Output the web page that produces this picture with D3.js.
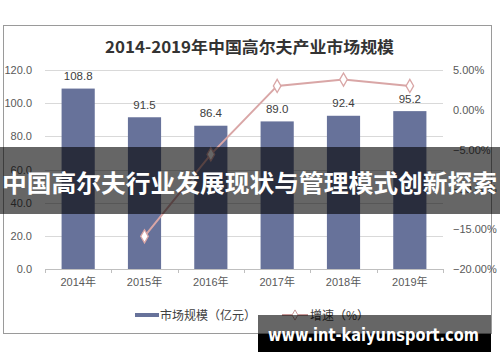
<!DOCTYPE html>
<html><head><meta charset="utf-8">
<script src="https://cdn.jsdelivr.net/npm/d3@7"></script>
<style>html,body{margin:0;padding:0;background:#fff;}svg{display:block;}</style>
</head><body>
<script>
const years = ["2014年","2015年","2016年","2017年","2018年","2019年"];
const marketSize = [108.8, 91.5, 86.4, 89.0, 92.4, 95.2];
const growth = [null, -15.9, -5.6, 3.0, 3.8, 3.0];
const leftTicks = [0, 20, 40, 60, 80, 100, 120];
const rightTicks = [-20, -15, -10, -5, 0, 5];
const titleText = "2014-2019年中国高尔夫产业市场规模";
const legendLabels = ["市场规模（亿元）", "增速（%）"];
const bannerText = "中国高尔夫行业发展现状与管理模式创新探索";
const watermarkText = "www.int-kaiyunsport.com";

const W = 500, H = 362;
const svg = d3.select("body").append("svg").attr("width", W).attr("height", H);
const sans = "Liberation Sans, Arial, 'Noto Sans CJK SC', sans-serif";
const cjk = "'Noto Sans CJK SC', sans-serif";

// frame
svg.append("rect").attr("x", 3.5).attr("y", 25.5).attr("width", 488).attr("height", 308)
  .attr("fill", "#fff").attr("stroke", "#9a9a9a").attr("stroke-width", 1);

// title
svg.append("text").attr("x", 249.5).attr("y", 53).attr("text-anchor", "middle")
  .attr("font-family", cjk).attr("font-weight", "bold").attr("font-size", 16)
  .attr("fill", "#333").attr("textLength", 289).attr("lengthAdjust", "spacingAndGlyphs")
  .text(titleText);

const x = d3.scaleBand().domain(years).range([45, 443]).paddingInner(0.5).paddingOuter(0.25);
const yL = d3.scaleLinear().domain([0, 120]).range([269, 70]);
const yR = d3.scaleLinear().domain([-20, 5]).range([269, 70]);

// gridlines
svg.append("g").selectAll("line").data(leftTicks.filter(d => d > 0)).join("line")
  .attr("x1", 45).attr("x2", 443)
  .attr("y1", d => Math.round(yL(d)) + 0.5).attr("y2", d => Math.round(yL(d)) + 0.5)
  .attr("stroke", "#d9d9d9").attr("stroke-width", 1);

// left axis
const gl = svg.append("g").attr("transform", "translate(45,0)")
  .call(d3.axisLeft(yL).tickValues(leftTicks).tickFormat(d3.format(".1f")).tickSize(0).tickPadding(13));
gl.select(".domain").remove();
gl.selectAll("text").attr("font-family", sans).attr("font-size", 11).attr("fill", "#595959");

// right axis
const gr = svg.append("g").attr("transform", "translate(443,0)")
  .call(d3.axisRight(yR).tickValues(rightTicks).tickFormat(d => d3.format(".2f")(d) + "%").tickSize(0).tickPadding(10));
gr.select(".domain").remove();
gr.selectAll("text").attr("font-family", sans).attr("font-size", 11).attr("fill", "#595959");

// bars
svg.append("g").selectAll("rect").data(marketSize).join("rect")
  .attr("x", (d, i) => x(years[i])).attr("width", x.bandwidth())
  .attr("y", d => yL(d)).attr("height", d => yL(0) - yL(d))
  .attr("fill", "#67729a");

// bottom axis
const gb = svg.append("g").attr("transform", `translate(0,${Math.round(yL(0)) + 0.5})`)
  .call(d3.axisBottom(x).tickSize(0).tickPadding(9));
gb.select(".domain").attr("stroke", "#bfbfbf").attr("d", "M45,0H443");
gb.selectAll("text").attr("font-family", sans).attr("font-size", 11).attr("fill", "#595959");
const step = x.step();
svg.append("g").selectAll("line").data(d3.range(7)).join("line")
  .attr("x1", i => Math.round(45 + i * step) + 0.5).attr("x2", i => Math.round(45 + i * step) + 0.5)
  .attr("y1", Math.round(yL(0))).attr("y2", Math.round(yL(0)) + 4)
  .attr("stroke", "#bfbfbf");

// value labels
svg.append("g").selectAll("text").data(marketSize).join("text")
  .attr("x", (d, i) => x(years[i]) + x.bandwidth() / 2).attr("y", d => yL(d) - 8.5)
  .attr("text-anchor", "middle").attr("font-family", sans).attr("font-size", 11.5)
  .attr("fill", "#404040").text(d => d.toFixed(1));

// growth line
const pts = growth.map((g, i) => ({g, yr: years[i]})).filter(d => d.g !== null);
const cx = d => x(d.yr) + x.bandwidth() / 2;
svg.append("path").datum(pts)
  .attr("d", d3.line().x(cx).y(d => yR(d.g)))
  .attr("fill", "none").attr("stroke", "#d9a6a6").attr("stroke-width", 2);
const diamond = d3.symbol().type(d3.symbolDiamond).size(50);
svg.append("g").selectAll("path").data(pts).join("path")
  .attr("transform", d => `translate(${cx(d)},${yR(d.g)})`)
  .attr("d", diamond).attr("fill", "#fff").attr("stroke", "#d9a6a6").attr("stroke-width", 1.3);

// legend
svg.append("rect").attr("x", 135).attr("y", 313).attr("width", 24).attr("height", 4).attr("fill", "#67729a");
svg.append("text").attr("x", 160).attr("y", 319.5).attr("font-family", cjk).attr("font-size", 12)
  .attr("fill", "#404040").text(legendLabels[0]);
svg.append("line").attr("x1", 282).attr("x2", 308).attr("y1", 315).attr("y2", 315)
  .attr("stroke", "#c99a9a").attr("stroke-width", 2);
svg.append("path").attr("transform", "translate(295,315)").attr("d", d3.symbol().type(d3.symbolDiamond).size(30))
  .attr("fill", "#fff").attr("stroke", "#c99a9a");
svg.append("text").attr("x", 310).attr("y", 319.5).attr("font-family", cjk).attr("font-size", 12)
  .attr("fill", "#404040").text(legendLabels[1]);

// banner overlay
svg.append("rect").attr("x", 0).attr("y", 147).attr("width", W).attr("height", 67).attr("fill", "rgba(0,0,0,0.6)");
svg.append("text").attr("x", 2).attr("y", 192).attr("font-family", cjk).attr("font-weight", "bold")
  .attr("font-size", 24).attr("fill", "#fff").attr("textLength", 495).attr("lengthAdjust", "spacingAndGlyphs")
  .text(bannerText);

// watermark
svg.append("rect").attr("x", 258).attr("y", 315).attr("width", 233).attr("height", 19).attr("fill", "rgba(0,0,0,0.6)");
svg.append("rect").attr("x", 258).attr("y", 334).attr("width", 233).attr("height", 18).attr("fill", "#000");
svg.append("text").attr("x", 268).attr("y", 341).attr("font-family", "'DejaVu Sans', sans-serif").attr("font-weight", "bold")
  .attr("font-size", 17).attr("fill", "#fff").attr("textLength", 211).attr("lengthAdjust", "spacingAndGlyphs")
  .text(watermarkText);
</script>
</body></html>
